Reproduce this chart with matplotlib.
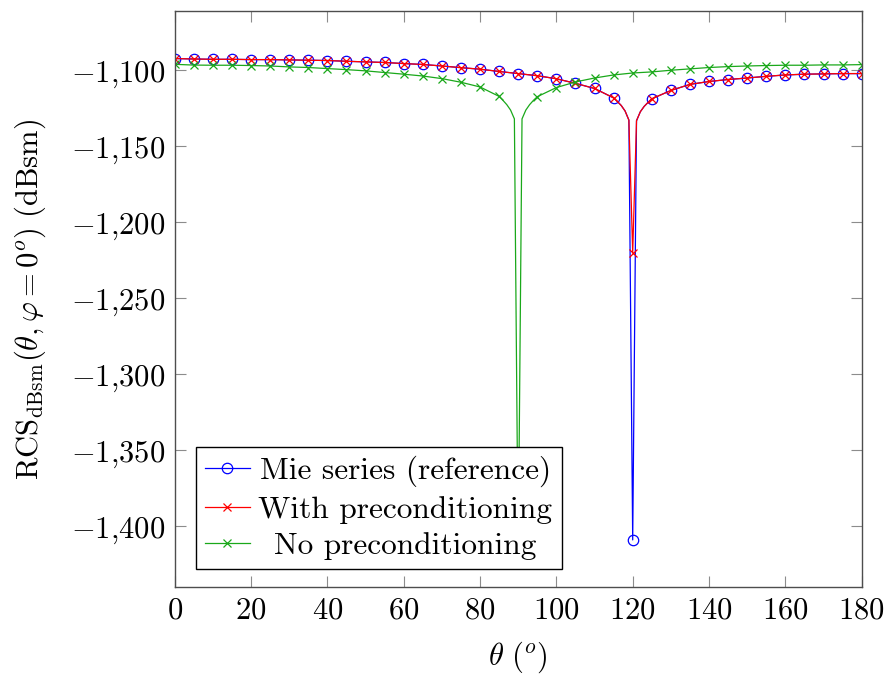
import matplotlib.pyplot as plt
from matplotlib.ticker import FuncFormatter

# bistatic RCS of the sphere, theta in degrees, values in dBsm
theta_mie = [0, 5, 10, 15, 20, 25, 30, 35, 40, 45, 50, 55, 60, 65, 70, 75, 80, 85,
             90, 95, 100, 105, 110, 115, 116, 117, 118, 119, 120, 121, 122, 123,
             124, 125, 130, 135, 140, 145, 150, 155, 160, 165, 170, 175, 180]
rcs_mie = [-1092.3, -1092.6, -1092.8, -1092.8, -1093.0, -1093.0, -1093.2, -1093.4,
           -1093.6, -1094.1, -1094.5, -1094.9, -1095.6, -1096.2, -1097.2, -1098.3,
           -1099.3, -1100.8, -1102.2, -1103.6, -1105.6, -1108.6, -1112.0, -1118.2,
           -1120.6, -1123.2, -1126.8, -1132.8, -1409.0, -1133.2, -1127.3, -1123.8,
           -1121.2, -1118.8, -1113.3, -1109.3, -1107.4, -1106.1, -1105.1, -1104.0,
           -1103.1, -1102.6, -1102.4, -1102.2, -1102.2]
rcs_precond = [-1092.3, -1092.6, -1092.8, -1092.8, -1093.0, -1093.0, -1093.2, -1093.4,
               -1093.6, -1094.1, -1094.5, -1094.9, -1095.6, -1096.2, -1097.2, -1098.3,
               -1099.3, -1100.8, -1102.2, -1103.6, -1105.6, -1108.6, -1112.0, -1118.2,
               -1120.6, -1123.2, -1126.8, -1132.8, -1220.0, -1133.2, -1127.3, -1123.8,
               -1121.2, -1118.8, -1113.3, -1109.3, -1107.4, -1106.1, -1105.1, -1104.0,
               -1103.1, -1102.6, -1102.4, -1102.2, -1102.2]

theta_noprec = [0, 5, 10, 15, 20, 25, 30, 35, 40, 45, 50, 55, 60, 65, 70, 75, 80, 85,
                86, 87, 88, 89, 90, 91, 92, 93, 94, 95, 100, 105, 110, 115, 120, 125,
                130, 135, 140, 145, 150, 155, 160, 165, 170, 175, 180]
rcs_noprec = [-1096.1, -1096.6, -1096.7, -1096.7, -1096.9, -1097.2, -1097.8, -1098.2,
              -1098.9, -1099.6, -1100.4, -1101.5, -1102.6, -1103.8, -1105.5, -1107.9,
              -1111.0, -1117.2, -1119.8, -1122.6, -1126.2, -1132.0, -1420.0, -1132.0,
              -1126.2, -1122.6, -1119.8, -1117.4, -1111.4, -1107.7, -1105.1, -1103.1,
              -1101.8, -1101.1, -1100.0, -1099.1, -1098.2, -1097.6, -1097.2, -1096.9,
              -1096.7, -1096.7, -1096.5, -1096.5, -1096.3]

labels = ["Mie series (reference)", "With preconditioning", "No preconditioning"]
x_ticks = [0, 20, 40, 60, 80, 100, 120, 140, 160, 180]
y_ticks = [-1400, -1350, -1300, -1250, -1200, -1150, -1100]

plt.rcParams["mathtext.fontset"] = "cm"
plt.rcParams["font.family"] = "serif"
plt.rcParams["font.serif"] = ["cmr10"]
plt.rcParams["axes.formatter.use_mathtext"] = True
plt.rcParams["font.size"] = 22


def every5(th):
    return [t % 5 == 0 for t in th]


fig = plt.figure(figsize=(8.9, 6.77), dpi=100)
ax = fig.add_axes([0.1963, 0.1329, 0.7719, 0.8509])

ax.plot(theta_mie, rcs_mie, color="blue", lw=0.9, marker="o", ms=7.5, mfc="none",
        mew=0.9, markevery=every5(theta_mie), label=labels[0])
ax.plot(theta_mie, rcs_precond, color="red", lw=0.9, marker="x", ms=6, mew=0.9,
        markevery=every5(theta_mie), label=labels[1])
green = "#1aa81a"
ax.plot(theta_noprec, rcs_noprec, color=green, lw=0.9, marker="x", ms=6, mew=0.9,
        markevery=every5(theta_noprec), label=labels[2])

ax.set_xlim(0, 180)
ax.set_ylim(-1440, -1061)
ax.set_xticks(x_ticks)
ax.set_yticks(y_ticks)
fmt = FuncFormatter(lambda v, pos: "$%s$" % format(int(v), ",").replace(",", "{,}"))
ax.xaxis.set_major_formatter(fmt)
ax.yaxis.set_major_formatter(fmt)
ax.tick_params(direction="in", length=8, width=0.8, color="0.55", top=True,
               right=True, pad=7, labelsize=22)
for sp in ax.spines.values():
    sp.set_linewidth(1.0)
    sp.set_color("0.3")

ax.set_xlabel(r"$\theta\ (^o)$", fontsize=22)
ax.set_ylabel(r"$\mathrm{RCS}_{\mathrm{dBsm}}(\theta,\varphi=0^o)\ (\mathrm{dBsm})$",
              fontsize=22)
ax.xaxis.set_label_coords(0.5, -0.092)
ax.yaxis.set_label_coords(-0.184, 0.5)

leg = ax.legend(loc="lower left", bbox_to_anchor=(0.0306, 0.031), borderaxespad=0,
                fancybox=False, edgecolor="black", framealpha=1, fontsize=22.6,
                handlelength=1.42, handletextpad=0.27, borderpad=0.3,
                labelspacing=0.26)
leg.get_frame().set_linewidth(1.0)

# centre the legend entries like pgfplots does
fig.canvas.draw()
texts = leg.get_texts()
widths = [t.get_window_extent().width for t in texts]
for t, w in zip(texts, widths):
    t.set_x((max(widths) - w) / 2)

fig.savefig("out.png", dpi=100)
